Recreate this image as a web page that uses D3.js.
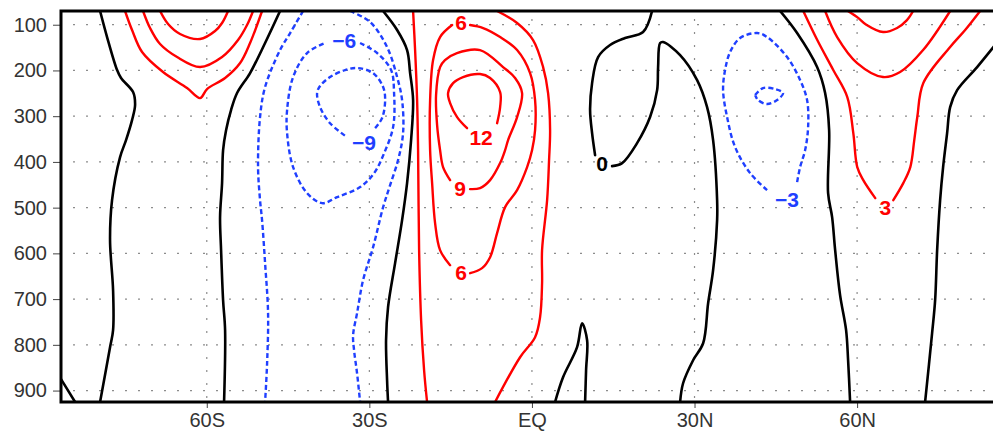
<!DOCTYPE html>
<html><head><meta charset="utf-8">
<script src="https://cdn.jsdelivr.net/npm/d3@7"></script>
<style>body{margin:0;background:#fff;overflow:hidden}svg{display:block}</style>
</head><body>
<svg id="chart" width="993" height="432"></svg>
<script>
// ---------- data ----------
const latDomain = [-86.9, 86.0];
const presDomain = [70, 925];
const pressureTicks = [100, 200, 300, 400, 500, 600, 700, 800, 900];
const latTicks = [-60, -30, 0, 30, 60];
const latTickLabels = ["60S", "30S", "EQ", "30N", "60N"];

// zero contours (black), each a list of [lat, hPa]
const zeroLines = [
  [[-79.69,70],[-78.40,126.9],[-76.55,199.1],[-75.82,216.6],[-73.60,247.3],[-73.23,275.7],[-73.79,308.5],[-74.90,352.3],[-76.00,389.5],[-77.48,483.6],[-77.85,571.1],[-77.29,680.5],[-77.29,768],[-77.85,805.2],[-79.69,925]],
  [[-86.9,875],[-84.3,925]],
  [[-46.48,70],[-49.24,140],[-52.01,205.7],[-54.41,249.4],[-55.52,286.6],[-56.44,330.6],[-56.99,374.2],[-57.18,446.4],[-57.55,520.8],[-57.36,593],[-56.99,702.4],[-56.62,768],[-56.81,925]],
  [[-27.47,70],[-24.88,111.6],[-23.04,155.4],[-22.48,205.7],[-21.93,264.8],[-22.30,352.3],[-23.04,446.4],[-23.96,527.3],[-25.25,621.4],[-26.55,717.7],[-26.92,789.9],[-26.73,877.4],[-26.55,925]],
  [[22.17,70],[20.51,116],[17.19,129.1],[14.42,144.4],[12.21,170.7],[11.10,227.6],[10.73,286.6],[11.10,337.2],[11.65,385.1]],
  [[14.79,409.2],[16.64,402.6],[19.40,358.9],[21.80,301.9],[23.10,242.9],[23.28,192.6],[23.65,140],[24.20,137.9],[27.34,166.3],[30.48,221],[32.32,280.1],[33.43,352.3],[34.17,483.6],[34.17,527.3],[33.43,636.7],[32.51,709],[31.59,796.5],[29.74,833.7],[27.89,884],[27.34,925]],
  [[4.27,925],[5.74,870.9],[8.33,805.2],[9.25,752.7],[10.18,789.9],[9.99,855.5],[9.81,925]],
  [[45.79,70],[48.93,118.2],[52.62,192.6],[54.10,249.4],[54.84,330.6],[54.65,468.2],[55.39,520.8],[55.95,593],[56.86,691.4],[57.97,768],[58.34,833.7],[58.71,925]],
  [[85.47,144.4],[82.15,192.6],[78.46,242.9],[77.17,280.1],[76.61,337.2],[75.87,411.4],[75.32,483.6],[74.77,593],[74.40,702.4],[73.84,774.6],[72.55,925]]
];

// positive contours (red)
const posLines = [
  // 60S cluster: 9, 6, 3
  [[-68.62,70],[-67.14,98.5],[-64.93,120.3],[-61.24,131.3],[-58.47,113.8],[-57.18,96.3],[-56.07,70]],
  [[-71.76,70],[-70.47,107.2],[-68.62,142.2],[-65.48,170.7],[-61.24,192.6],[-57.18,170.7],[-54.23,133.5],[-52.57,100.7],[-51.46,70]],
  [[-75.08,70],[-73.79,111.6],[-71.94,159.7],[-68.07,203.5],[-63.64,238.5],[-61.24,260.4],[-59.95,240.7],[-56.62,216.6],[-53.85,183.8],[-52.01,140],[-49.80,70]],
  // equatorial 3 (two branches)
  [[-21.93,70],[-21.56,155.4],[-21.19,264.8],[-21.01,374.2],[-20.82,593],[-20.45,746.1],[-19.90,855.5],[-19.35,925]],
  [[-6.43,70],[-2.74,96.3],[0.21,133.5],[2.06,192.6],[2.98,249.4],[3.35,330.6],[3.16,396],[2.80,483.6],[1.87,593],[1.87,665.2],[1.50,739.6],[0.58,783.4],[-2.19,827.1],[-6.80,925]],
  // 6
  [[-11.41,100.7],[-9.01,107.2],[-5.87,126.9],[-2.74,155.4],[-0.34,205.7],[0.58,264.8],[0.58,330.6],[0.03,374.2],[-0.89,411.4],[-2.74,461.7],[-4.95,498.9],[-6.43,555.8],[-7.72,608.3],[-9.20,632.3],[-11.41,643.3]],
  [[-15.10,625.8],[-16.95,593],[-17.87,533.9],[-18.42,446.4],[-18.79,374.2],[-18.79,264.8],[-18.24,177.2],[-16.95,126.9],[-14.73,100.7]],
  // 9
  [[-11.41,459.5],[-9.57,457.3],[-7.72,439.8],[-5.87,402.6],[-4.95,374.2],[-4.40,352.3],[-2.74,301.9],[-1.82,249.4],[-3.11,216.6],[-5.33,192.6],[-9.57,155.4],[-13.84,161.9],[-16.05,177.2],[-16.95,192.6],[-17.69,253.8],[-17.50,319.6],[-16.95,374.2],[-16.40,411.4],[-15.10,439.8]],
  // 12
  [[-6.43,315.3],[-5.87,280.1],[-5.87,247.3],[-7.72,216.6],[-9.57,207.9],[-12.71,214.4],[-14.55,227.6],[-15.48,249.4],[-15.10,271.3],[-13.81,301.9],[-11.97,326.2]],
  // 60N cluster: 9, 6, 3
  [[58.3,70],[60.2,85],[61.7,100],[64.80,116],[67.38,107.2],[69.2,90],[70.34,70]],
  [[54.10,70],[56.32,126.9],[60.01,183.8],[64.80,214.4],[67.94,203.5],[72.18,155.4],[77.17,70]],
  [[50.07,70],[52.65,133.5],[55.60,199.1],[58.19,258.2],[59.30,337.2],[60.03,411.4],[61.14,439.8],[63.35,479.2]],
  [[66.68,483.6],[68.52,446.4],[69.82,411.4],[70.55,352.3],[71.11,301.9],[72.22,227.6],[77.17,148.8],[79.94,111.6],[82.70,70]]
];

// negative contours (blue dashed)
const negLines = [
  [[-42.23,70],[-44.62,118.2],[-46.48,155.4],[-49.24,236.3],[-50.17,301.9],[-50.54,411.4],[-50.17,483.6],[-49.80,527.3],[-49.24,621.4],[-48.69,730.8],[-48.87,840.2],[-49.24,925]],
  [[-33.56,70],[-29.86,94.1],[-26.73,148.8],[-24.88,214.4],[-23.96,264.8],[-23.78,337.2],[-24.70,396],[-26.17,450.7],[-27.46,498.9],[-29.31,586.4],[-31.16,658.6],[-32.27,730.8],[-33.00,778.9],[-32.82,811.8],[-32.27,862.1],[-31.71,925]],
  // -6
  [[-31.71,140],[-28.57,161.9],[-25.99,199.1],[-25.44,249.4],[-25.62,324],[-27.27,380.7],[-29.12,424.5],[-31.71,455.1],[-35.95,477],[-38.72,490.2],[-41.49,468.2],[-44.07,411.4],[-45.18,337.2],[-45.18,286.6],[-44.07,214.4],[-41.49,161.9],[-38.16,140]],
  // -9
  [[-28.94,326.2],[-27.65,304.1],[-27.09,264.8],[-27.46,236.3],[-29.31,205.7],[-32.27,194.7],[-34.49,199.1],[-37.25,214.4],[-39.10,234.1],[-39.65,249.4],[-39.10,280.1],[-37.25,315.3],[-34.12,346]],
  // -3 north
  [[43.39,461.7],[40.26,424.5],[37.49,367.6],[36.01,301.9],[35.27,242.9],[35.64,199.1],[36.57,159.7],[38.41,129.1],[41.55,118.2],[43.39,126.9],[47.08,170.7],[49.48,221],[50.77,264.8],[50.96,324],[50.41,374.2],[49.48,411.4],[48.93,444.2]],
  // -6 north (small closed)
  [[41.18,253.8],[42.65,238.5],[44.87,240.7],[46.34,249.4],[45.24,264.8],[43.39,273.5],[41.73,264.8],[41.18,253.8]]
];

// contour labels: [lat, hPa, text, sign]
const contourLabels = [
  [-34.66, 133.5, "\u22126", -1],
  [-30.98, 356.7, "\u22129", -1],
  [-13.07, 94.1, "6", 1],
  [-9.38, 346, "12", 1],
  [-13.26, 457.3, "9", 1],
  [-13.07, 641, "6", 1],
  [12.95, 402.6, "0", 0],
  [47.08, 481.4, "\u22123", -1],
  [65.2, 498.9, "3", 1]
];

// ---------- drawing ----------
const svg = d3.select("#chart");
const X0 = 61, X1 = 998, Y0 = 11, Y1 = 402;
const x = d3.scaleLinear().domain(latDomain).range([X0, X1]);
const y = d3.scaleLinear().domain(presDomain).range([Y0, Y1]);

svg.append("defs").append("clipPath").attr("id", "plotclip")
  .append("rect").attr("x", X0).attr("y", Y0).attr("width", X1 - X0).attr("height", Y1 - Y0);

// grid
const grid = svg.append("g").attr("stroke", "#8c8c8c").attr("stroke-width", 1.2)
  .attr("stroke-dasharray", "2,11");
grid.selectAll("line.h").data(pressureTicks).join("line")
  .attr("x1", X0 + 12).attr("x2", X1).attr("y1", d => y(d)).attr("y2", d => y(d));
grid.selectAll("line.v").data(latTicks).join("line")
  .attr("y1", Y0 + 8).attr("y2", Y1).attr("x1", d => x(d)).attr("x2", d => x(d));

const line = d3.line().x(d => x(d[0])).y(d => y(d[1])).curve(d3.curveCatmullRom.alpha(0.5));
const plot = svg.append("g").attr("clip-path", "url(#plotclip)");

plot.selectAll("path.zero").data(zeroLines).join("path")
  .attr("d", line).attr("fill", "none").attr("stroke", "#000").attr("stroke-width", 2.6)
  .attr("stroke-linejoin", "round").attr("stroke-linecap", "round");
plot.selectAll("path.pos").data(posLines).join("path")
  .attr("d", line).attr("fill", "none").attr("stroke", "#ff0000").attr("stroke-width", 2.4)
  .attr("stroke-linejoin", "round").attr("stroke-linecap", "round");
plot.selectAll("path.neg").data(negLines).join("path")
  .attr("d", line).attr("fill", "none").attr("stroke", "#1f3fff").attr("stroke-width", 2.4)
  .attr("stroke-dasharray", "5,3");

plot.selectAll("text.cl").data(contourLabels).join("text")
  .attr("x", d => x(d[0])).attr("y", d => y(d[1]))
  .attr("text-anchor", "middle").attr("dominant-baseline", "central")
  .attr("font-family", "Liberation Sans, Arial, sans-serif").attr("font-size", 21)
  .attr("font-weight", "bold")
  .attr("fill", d => d[3] > 0 ? "#ff0000" : d[3] < 0 ? "#1f3fff" : "#000")
  .text(d => d[2]);

// axes
const yAxis = d3.axisLeft(y).tickValues(pressureTicks).tickSize(8).tickPadding(6);
const gy = svg.append("g").attr("transform", `translate(${X0},0)`).call(yAxis);
const xAxis = d3.axisBottom(x).tickValues(latTicks).tickFormat((d, i) => latTickLabels[i]).tickSize(6).tickPadding(5);
const gx = svg.append("g").attr("transform", `translate(0,${Y1})`).call(xAxis);
[gx, gy].forEach(g => {
  g.select(".domain").remove();
  g.selectAll(".tick line").attr("stroke", "#444").attr("stroke-width", 1);
  g.selectAll(".tick text").attr("font-family", "Liberation Sans, Arial, sans-serif")
    .attr("font-size", 20).attr("fill", "#333");
});

// frame (right side lies beyond the visible window, as in the reference)
svg.append("rect").attr("x", X0).attr("y", Y0).attr("width", X1 - X0).attr("height", Y1 - Y0)
  .attr("fill", "none").attr("stroke", "#000").attr("stroke-width", 3);
</script>
</body></html>
